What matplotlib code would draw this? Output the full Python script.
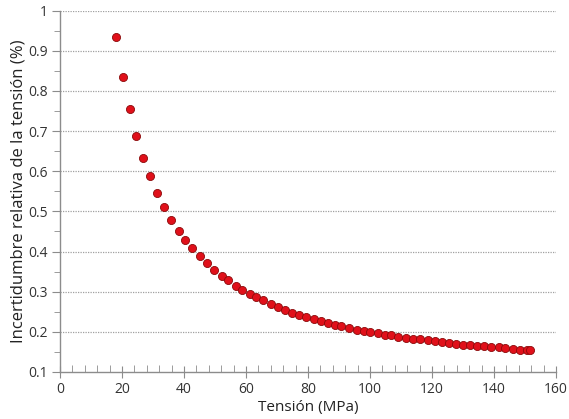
import matplotlib
matplotlib.use("Agg")
import matplotlib.pyplot as plt
from matplotlib.ticker import MultipleLocator, FuncFormatter

# Tension (MPa) and relative uncertainty of the tension (%)
tension = [
    18.1, 20.3, 22.5, 24.6, 26.9, 29.0, 31.4, 33.7, 35.9, 38.4,
    40.4, 42.7, 45.2, 47.4, 49.7, 52.2, 54.3, 56.8, 58.8, 61.3,
    63.4, 65.6, 68.0, 70.2, 72.6, 74.9, 77.2, 79.5, 81.9, 84.2,
    86.6, 88.6, 90.8, 93.2, 95.8, 98.0, 100.1, 102.6, 104.7, 106.9,
    109.2, 111.7, 113.8, 116.3, 118.6, 121.0, 123.3, 125.4, 127.8, 130.1,
    132.3, 134.5, 136.9, 139.2, 141.5, 143.6, 146.0, 148.4, 150.7, 151.6,
]
incertidumbre = [
    0.934, 0.835, 0.754, 0.689, 0.633, 0.588, 0.546, 0.511, 0.478, 0.450,
    0.429, 0.408, 0.388, 0.372, 0.355, 0.339, 0.328, 0.314, 0.304, 0.295,
    0.287, 0.279, 0.270, 0.262, 0.254, 0.248, 0.242, 0.237, 0.231, 0.226,
    0.221, 0.217, 0.214, 0.210, 0.205, 0.202, 0.200, 0.196, 0.193, 0.191,
    0.188, 0.185, 0.182, 0.181, 0.179, 0.177, 0.174, 0.173, 0.170, 0.167,
    0.167, 0.165, 0.164, 0.162, 0.161, 0.159, 0.157, 0.156, 0.155, 0.155,
]
x_ticks = [0, 20, 40, 60, 80, 100, 120, 140, 160]
y_ticks = [0.1, 0.2, 0.3, 0.4, 0.5, 0.6, 0.7, 0.8, 0.9, 1.0]

plt.rcParams["font.family"] = ["Open Sans", "DejaVu Sans"]

fig = plt.figure(figsize=(5.69, 4.19), dpi=100)
ax = fig.add_axes([0.1054, 0.1122, 0.8716, 0.8623])

ax.set_xlim(0, 160)
ax.set_ylim(0.1, 1.0)

# horizontal dotted grid lines
for yv in y_ticks[1:]:
    ax.axhline(yv, color="#a0a0a0", linestyle=(0, (1, 1)), linewidth=0.9, zorder=1)

ax.scatter(tension, incertidumbre, s=34, facecolor="#e0101a",
           edgecolor="#8a0a0a", linewidth=0.6, zorder=3)

for side in ("top", "right"):
    ax.spines[side].set_visible(False)
for side in ("left", "bottom"):
    ax.spines[side].set_color("#8c8c8c")
    ax.spines[side].set_linewidth(1.0)

ax.set_xticks(x_ticks)
ax.set_yticks(y_ticks)
ax.xaxis.set_minor_locator(MultipleLocator(4))
ax.yaxis.set_minor_locator(MultipleLocator(0.05))
ax.yaxis.set_major_formatter(FuncFormatter(lambda v, p: f"{v:g}"))

ax.tick_params(axis="x", which="major", direction="inout", length=9,
               color="#8c8c8c", labelsize=10, labelcolor="#333333", pad=3)
ax.tick_params(axis="x", which="minor", direction="in", length=5, color="#8c8c8c")
ax.tick_params(axis="y", which="major", direction="out", length=6,
               color="#8c8c8c", labelsize=10, labelcolor="#333333", pad=3)
ax.tick_params(axis="y", which="minor", direction="out", length=4, color="#8c8c8c")

ax.set_xlabel("Tensión (MPa)", fontsize=11, color="#222222", labelpad=2)
ax.set_ylabel("Incertidumbre relativa de la tensión (%)", fontsize=12,
              color="#222222", labelpad=1)

fig.savefig("out.png", dpi=100)
